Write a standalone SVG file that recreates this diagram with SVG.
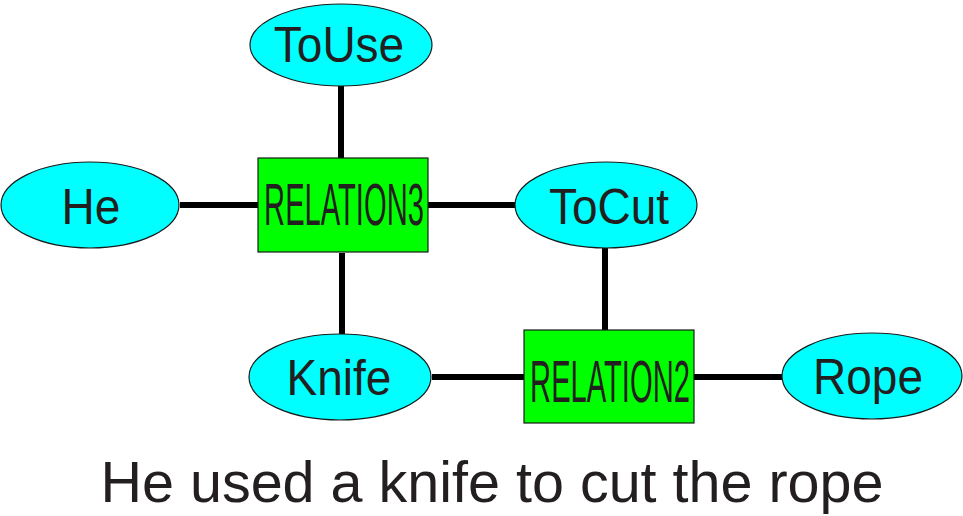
<svg xmlns="http://www.w3.org/2000/svg" width="963" height="516" viewBox="0 0 963 516">
<style>
.ent{fill:#00FFFF;stroke:#1a1a1a;stroke-width:1.2}
.rel{fill:#00FF00;stroke:#1a1a1a;stroke-width:1.2}
.lbl{font-family:"Liberation Sans",Arial,sans-serif;font-size:46px;fill:#231f20;text-anchor:middle}
.rlbl{font-family:"Liberation Sans",Arial,sans-serif;font-size:60px;fill:#231f20;text-anchor:middle}
.cap{font-family:"Liberation Sans",Arial,sans-serif;font-size:57.5px;fill:#231f20;text-anchor:middle}
.edge{stroke:#000;stroke-width:6;fill:none}
</style>
<rect width="963" height="516" fill="#fff"/>
<g id="connectors">
<line class="edge" x1="341" y1="86" x2="341" y2="158"/>
<line class="edge" x1="180" y1="205" x2="258" y2="205"/>
<line class="edge" x1="428" y1="205" x2="515" y2="205"/>
<line class="edge" x1="342" y1="253" x2="342" y2="334"/>
<line class="edge" x1="605" y1="248" x2="605" y2="330"/>
<line class="edge" x1="432" y1="377" x2="524" y2="377"/>
<line class="edge" x1="694" y1="377" x2="782" y2="377"/>
</g>
<g id="ToUse"><ellipse class="ent" cx="341" cy="45" rx="91" ry="41"/><text class="lbl" transform="translate(339,62) scale(1,1.08)">ToUse</text></g>
<g id="He"><ellipse class="ent" cx="90" cy="205" rx="89" ry="43"/><text class="lbl" transform="translate(91,224) scale(1,1.08)">He</text></g>
<g id="RELATION3"><rect class="rel" x="258" y="158" width="170" height="94"/><text class="rlbl" transform="translate(344,225) scale(0.486,1)">RELATION3</text></g>
<g id="ToCut"><ellipse class="ent" cx="606" cy="205" rx="91" ry="43"/><text class="lbl" transform="translate(609,224) scale(1,1.08)">ToCut</text></g>
<g id="Knife"><ellipse class="ent" cx="340" cy="377" rx="91" ry="43"/><text class="lbl" transform="translate(339,395) scale(1,1.08)">Knife</text></g>
<g id="RELATION2"><rect class="rel" x="524" y="330" width="170" height="93"/><text class="rlbl" transform="translate(610,402) scale(0.486,1)">RELATION2</text></g>
<g id="Rope"><ellipse class="ent" cx="872" cy="376" rx="90" ry="43"/><text class="lbl" transform="translate(868,394) scale(1,1.08)">Rope</text></g>
<text class="cap" x="492" y="502">He used a knife to cut the rope</text>
</svg>
